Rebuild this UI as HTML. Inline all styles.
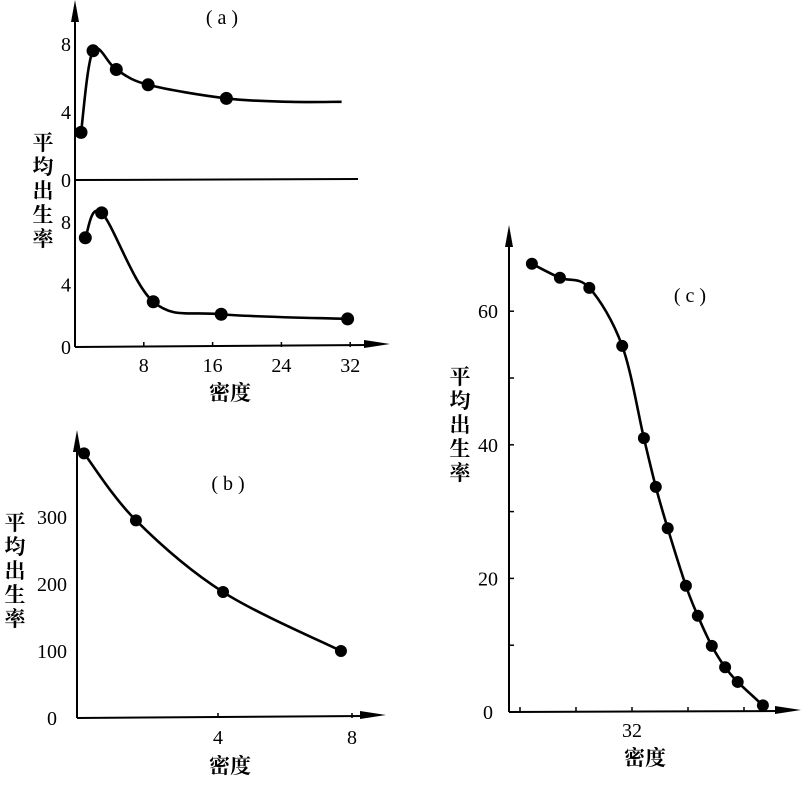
<!DOCTYPE html>
<html><head><meta charset="utf-8">
<style>
html,body{margin:0;padding:0;background:#fff;}
svg{display:block;}
text{font-family:"Liberation Serif","Noto Serif CJK SC",serif;fill:#000;}
.cj{font-family:"Liberation Serif","Noto Serif CJK SC","Noto Sans CJK SC",serif;font-weight:bold;font-size:21px;}
.tk{font-size:20px;}
</style></head>
<body>
<svg id="chart" width="803" height="790" viewBox="0 0 803 790" xmlns="http://www.w3.org/2000/svg">
<g id="axes"></g>
<g id="marks"></g>
</svg>
<script>
// Panel (a) upper
const aUpperX=[0.7,2.1,4.8,8.5,17.6];
const aUpperY=[2.8,7.6,6.5,5.6,4.8];
const aUpperTailX=[25,31];
const aUpperTailY=[4.6,4.6];
// Panel (a) lower
const aLowerX=[1.2,3.1,9.1,17,31.7];
const aLowerY=[7.0,8.6,2.9,2.1,1.8];
const aXTicks=[8,16,24,32];
const aYTicks=[0,4,8];
// Panel (b)
const bX=[0,1.55,4.15,7.67];
const bY=[395,295,188,100];
const bXTicks=[4,8];
const bYTicks=[0,100,200,300];
// Panel (c)
const cX=[17.7,21.7,25.9,30.6,33.7,35.4,37.1,39.7,41.4,43.4,45.3,47.1,50.7];
const cY=[67.1,65.0,63.5,54.8,41.0,33.7,27.5,18.9,14.4,9.9,6.7,4.5,1.0];
const cXTicks=[32];
const cXMinor=[16,24,32,40,48];
const cYTicks=[0,20,40,60];
const cYMinor=[10,30,50];

const NS="http://www.w3.org/2000/svg";
const axes=document.getElementById('axes');
const marks=document.getElementById('marks');
function mk(tag,attrs,parent,name,inter){
  const e=document.createElementNS(NS,tag);
  for(const k in attrs)e.setAttribute(k,attrs[k]);
  
  
  parent.appendChild(e);return e;
}
function spline(pts){
  let d='M'+pts[0][0]+','+pts[0][1];
  for(let i=0;i<pts.length-1;i++){
    const p0=pts[i-1]||pts[i],p1=pts[i],p2=pts[i+1],p3=pts[i+2]||p2;
    const t=6;
    d+=' C'+(p1[0]+(p2[0]-p0[0])/t)+','+(p1[1]+(p2[1]-p0[1])/t)+' '+(p2[0]-(p3[0]-p1[0])/t)+','+(p2[1]-(p3[1]-p1[1])/t)+' '+p2[0]+','+p2[1];
  }
  return d;
}
function arrowUp(x,y,name){mk('path',{d:`M${x-4},${y+22} L${x},${y} L${x+4},${y+22} Z`,fill:'#000'},axes,name);}
function arrowRight(x,y,name){mk('path',{d:`M${x-26},${y-4} L${x},${y} L${x-26},${y+4} Z`,fill:'#000'},axes,name);}
function vlabel(x,y0,name){
  const chars='平均出生率';
  const g=mk('g',{},axes,name);
  for(let i=0;i<5;i++){
    const t=mk('text',{x:x,y:y0+i*24,'text-anchor':'middle',class:'cj'},g,'y-axis-title-char');
    t.textContent=chars[i];
  }
}
function txt(x,y,s,cls,anchor,name){const t=mk('text',{x:x,y:y,class:cls,'text-anchor':anchor||'middle'},axes,name);t.textContent=s;return t;}
function series(xs,ys,sx,sy,name,dots,extraX,extraY){
  const pts=xs.map((v,i)=>[sx(v),sy(ys[i])]);
  let all=pts.slice();
  if(extraX)extraX.forEach((v,i)=>all.push([sx(v),sy(extraY[i])]));
  mk('path',{d:spline(all),fill:'none',stroke:'#000','stroke-width':2.6},marks,name+'-line');
  pts.forEach(p=>{
    const c=mk('circle',{cx:p[0],cy:p[1],r:dots,fill:'#000'},marks,name+'-point');
  });
}

// ---- Panel a ----
const axA=75;
const aSX=v=>axA+v*8.6;
const aSYu=v=>180-v*17;
const aSYl=v=>347-v*15.6;
mk('line',{x1:axA,y1:8,x2:axA,y2:347,stroke:'#000','stroke-width':2},axes,'a-y-axis');
arrowUp(axA,0,'a-y-axis-arrow');
mk('line',{x1:axA,y1:180,x2:358,y2:179,stroke:'#000','stroke-width':2},axes,'a-upper-baseline');
mk('line',{x1:axA,y1:347,x2:370,y2:345,stroke:'#000','stroke-width':2},axes,'a-x-axis');
arrowRight(390,344,'a-x-axis-arrow');
aYTicks.forEach(v=>{
  txt(66,aSYu(v)+7,String(v),'tk','middle','a-upper-y-tick');
  txt(66,aSYl(v)+7,String(v),'tk','middle','a-lower-y-tick');
});
aXTicks.forEach(v=>{
  mk('line',{x1:aSX(v),y1:347,x2:aSX(v),y2:342,stroke:'#000','stroke-width':1.5},axes,'a-x-tick-mark');
  txt(aSX(v),372,String(v),'tk','middle','a-x-tick');
});
txt(222,24,'( a )','tk','middle','a-panel-title');
vlabel(43,150,'a-y-axis-title');
txt(230,400,'密度','cj','middle','a-x-axis-title');
series(aUpperX,aUpperY,aSX,aSYu,'a-upper-series',6.5,aUpperTailX,aUpperTailY);
series(aLowerX,aLowerY,aSX,aSYl,'a-lower-series',6.5);

// ---- Panel b ----
const axB=77;
const bSX=v=>84+v*33.5;
const bSY=v=>718-v*0.67;
mk('line',{x1:axB,y1:440,x2:axB,y2:718,stroke:'#000','stroke-width':2},axes,'b-y-axis');
arrowUp(axB,430,'b-y-axis-arrow');
mk('line',{x1:axB,y1:718,x2:365,y2:716,stroke:'#000','stroke-width':2},axes,'b-x-axis');
arrowRight(386,715,'b-x-axis-arrow');
bYTicks.forEach(v=>txt(52,bSY(v)+7,String(v),'tk','middle','b-y-tick'));
bXTicks.forEach(v=>{
  mk('line',{x1:bSX(v),y1:718,x2:bSX(v),y2:713,stroke:'#000','stroke-width':1.5},axes,'b-x-tick-mark');
  txt(bSX(v),744,String(v),'tk','middle','b-x-tick');
});
txt(228,490,'( b )','tk','middle','b-panel-title');
vlabel(15,530,'b-y-axis-title');
txt(230,773,'密度','cj','middle','b-x-axis-title');
series(bX,bY,bSX,bSY,'b-series',6);

// ---- Panel c ----
const axC=509;
const cSX=v=>632+(v-32)*7;
const cSY=v=>712-v*6.68;
mk('line',{x1:axC,y1:240,x2:axC,y2:712,stroke:'#000','stroke-width':2},axes,'c-y-axis');
arrowUp(axC,225,'c-y-axis-arrow');
mk('line',{x1:axC,y1:712,x2:780,y2:711,stroke:'#000','stroke-width':2},axes,'c-x-axis');
arrowRight(801,710,'c-x-axis-arrow');
cYTicks.forEach(v=>{
  mk('line',{x1:axC,y1:cSY(v),x2:axC+5,y2:cSY(v),stroke:'#000','stroke-width':1.5},axes,'c-y-tick-mark');
  txt(488,cSY(v)+7,String(v),'tk','middle','c-y-tick');
});
cYMinor.forEach(v=>mk('line',{x1:axC,y1:cSY(v),x2:axC+5,y2:cSY(v),stroke:'#000','stroke-width':1.5},axes,'c-y-minor-tick'));
cXMinor.forEach(v=>mk('line',{x1:cSX(v),y1:712,x2:cSX(v),y2:707,stroke:'#000','stroke-width':1.5},axes,'c-x-minor-tick'));
cXTicks.forEach(v=>txt(cSX(v),737,String(v),'tk','middle','c-x-tick'));
txt(690,302,'( c )','tk','middle','c-panel-title');
vlabel(460,384,'c-y-axis-title');
txt(645,765,'密度','cj','middle','c-x-axis-title');
series(cX,cY,cSX,cSY,'c-series',6);
</script>
</body></html>
